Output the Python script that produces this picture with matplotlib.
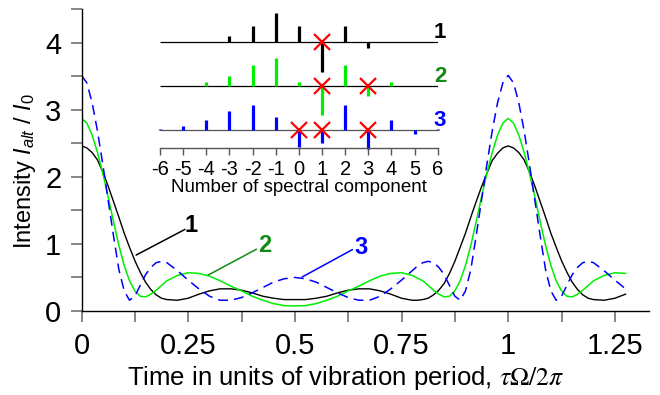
import matplotlib
matplotlib.use('Agg')
import matplotlib.pyplot as plt

plt.rcParams['font.family'] = 'Liberation Sans'
plt.rcParams['mathtext.fontset'] = 'custom'
plt.rcParams['mathtext.it'] = 'Liberation Sans:italic'
plt.rcParams['mathtext.rm'] = 'Liberation Sans'
plt.rcParams['axes.unicode_minus'] = False

# time in units of the vibration period
tau = [0, 0.0125, 0.025, 0.0375, 0.05, 0.0625, 0.075, 0.0875, 0.1, 0.1125, 0.125,
       0.1375, 0.15, 0.1625, 0.175, 0.1875, 0.2,
       0.225, 0.25, 0.275, 0.3, 0.325, 0.35, 0.375, 0.4, 0.425, 0.45, 0.475, 0.5,
       0.525, 0.55, 0.575, 0.6, 0.625, 0.65, 0.675, 0.7, 0.725, 0.75, 0.775,
       0.7875, 0.8, 0.8125, 0.825, 0.8375, 0.85, 0.8625, 0.875, 0.8875, 0.9,
       0.9125, 0.925, 0.9375, 0.95, 0.9625, 0.975, 0.9875, 1.0,
       1.0125, 1.025, 1.0375, 1.05, 1.0625, 1.075, 1.0875, 1.1, 1.1125, 1.125,
       1.1375, 1.15, 1.1625, 1.175, 1.1875, 1.2,
       1.225, 1.25, 1.275]

# intensity I_alt / I_0
curve1 = [2.46, 2.43, 2.36, 2.25, 2.07, 1.86, 1.63, 1.40, 1.16, 0.95, 0.75,
          0.58, 0.43, 0.32, 0.24, 0.19, 0.17,
          0.16, 0.19, 0.25, 0.30, 0.33, 0.33, 0.31, 0.27, 0.22, 0.19, 0.17, 0.17,
          0.17, 0.19, 0.22, 0.27, 0.31, 0.33, 0.33, 0.30, 0.25, 0.19, 0.16,
          0.16, 0.17, 0.19, 0.24, 0.31, 0.41, 0.56, 0.74, 0.95, 1.16,
          1.40, 1.63, 1.85, 2.05, 2.24, 2.35, 2.43, 2.46,
          2.43, 2.36, 2.25, 2.07, 1.86, 1.63, 1.40, 1.16, 0.95, 0.75,
          0.58, 0.43, 0.32, 0.24, 0.19, 0.17,
          0.16, 0.19, 0.25]
curve2 = [2.87, 2.80, 2.62, 2.36, 2.05, 1.70, 1.33, 0.98, 0.68, 0.45, 0.30,
          0.22, 0.21, 0.25, 0.31, 0.38, 0.45,
          0.53, 0.57, 0.56, 0.52, 0.45, 0.37, 0.30, 0.22, 0.16, 0.11, 0.08, 0.075,
          0.08, 0.11, 0.16, 0.22, 0.30, 0.37, 0.45, 0.52, 0.56, 0.57, 0.53,
          0.49, 0.45, 0.38, 0.31, 0.25, 0.21, 0.22, 0.30, 0.45, 0.68,
          0.98, 1.33, 1.70, 2.05, 2.36, 2.62, 2.80, 2.87,
          2.80, 2.62, 2.36, 2.05, 1.70, 1.33, 0.98, 0.68, 0.45, 0.30,
          0.22, 0.21, 0.25, 0.31, 0.38, 0.45,
          0.53, 0.57, 0.56]
curve3 = [3.51, 3.40, 3.10, 2.68, 2.18, 1.65, 1.12, 0.62, 0.30, 0.16, 0.22,
          0.38, 0.54, 0.65, 0.72, 0.74, 0.72,
          0.60, 0.46, 0.33, 0.22, 0.16, 0.16, 0.20, 0.27, 0.35, 0.43, 0.48, 0.50,
          0.48, 0.43, 0.35, 0.27, 0.20, 0.16, 0.16, 0.22, 0.33, 0.46, 0.60,
          0.67, 0.72, 0.74, 0.72, 0.65, 0.54, 0.38, 0.22, 0.16, 0.30,
          0.62, 1.12, 1.65, 2.18, 2.68, 3.10, 3.40, 3.51,
          3.40, 3.10, 2.68, 2.18, 1.65, 1.12, 0.62, 0.30, 0.16, 0.22,
          0.38, 0.54, 0.65, 0.72, 0.74, 0.72,
          0.60, 0.46, 0.33]

xticks = [0, 0.25, 0.5, 0.75, 1, 1.25]
xticklabels = ['0', '0.25', '0.5', '0.75', '1', '1.25']
xminor = [0.125, 0.375, 0.625, 0.875, 1.125]
yticks = [0, 1, 2, 3, 4]
yminor = [0.5, 1.5, 2.5, 3.5, 4.5]

# inset: spectral components (arbitrary units)
comp = [-6, -5, -4, -3, -2, -1, 0, 1, 2, 3, 4, 5, 6]
amp1 = [0, 0, 0, 6.3, 16.7, 29.7, 16.7, -30, 16.7, -6, 0, 0, 0]
amp2 = [0, 0, 4.3, 10, 21.3, 28, 4.3, -28.7, 21.3, -10.3, 4.3, 0, 0]
amp3 = [1, 3.7, 9.3, 18.3, 24.7, 13, -17, -13.7, 24.3, -19, 9.3, -4.3, 1]
removed1 = [1]
removed2 = [1, 3]
removed3 = [0, 1, 3]

green = '#00ee00'
dkgreen = '#138a13'
blue = '#0000ff'
tickgray = '#666666'

fig = plt.figure(figsize=(6.6, 3.95), dpi=100)
ax = fig.add_axes([0.1235, 0.2127, 0.8598, 0.7645])

ax.plot(tau, curve1, color='black', lw=1.0)
ax.plot(tau, curve2, color=green, lw=1.1)
ax.plot(tau, curve3, color=blue, lw=1.1, dashes=(6.5, 4))

ax.set_xlim(0, 1.33)
ax.set_ylim(0, 4.5)
ax.set_xticks(xticks)
ax.set_xticklabels(xticklabels)
ax.set_xticks(xminor, minor=True)
ax.set_yticks(yticks)
ax.set_yticks(yminor, minor=True)
for s in ['top', 'right']:
    ax.spines[s].set_visible(False)
for s in ['left', 'bottom']:
    ax.spines[s].set_linewidth(1.0)
ax.tick_params(which='both', direction='out', length=8, width=1.1,
               color=tickgray, labelsize=21)
ax.tick_params(axis='x', which='both', pad=7)
ax.tick_params(axis='y', which='both', pad=6.5)

ax.set_ylabel('Intensity $I_{alt}$ / $I_{\\mathit{0}}$', fontsize=17)
ax.yaxis.set_label_coords(-0.077, 0.464)
ax.set_xlabel('Time in units of vibration period, $\\tau\\Omega/2\\pi$',
              fontsize=18.5, math_fontfamily='stix')
ax.xaxis.set_label_coords(0.465, -0.175)

# curve labels with leader lines
lp = dict(arrowstyle='-', shrinkA=0, shrinkB=0, lw=1.1)
ax.annotate('', xy=(0.128, 0.833), xytext=(0.2425, 1.216),
            arrowprops=dict(lp, color='black'))
ax.text(0.256, 1.28, '1', fontsize=17, fontweight='bold', color='black',
        ha='center', va='center')
ax.annotate('', xy=(0.297, 0.536), xytext=(0.41, 0.92),
            arrowprops=dict(lp, color=dkgreen))
ax.text(0.430, 0.97, '2', fontsize=17, fontweight='bold', color=dkgreen,
        ha='center', va='center')
ax.annotate('', xy=(0.517, 0.506), xytext=(0.635, 0.915),
            arrowprops=dict(lp, color=blue))
ax.text(0.656, 0.95, '3', fontsize=17, fontweight='bold', color=blue,
        ha='center', va='center')

# inset with spectra
ins = fig.add_axes([160 / 660, 1 - 148.3 / 395, 277.7 / 660, 138.3 / 395])
ins.patch.set_visible(False)
ins.set_xlim(-6, 6)
ins.set_ylim(-0.426, 2.74)
for s in ['top', 'right', 'left']:
    ins.spines[s].set_visible(False)
ins.spines['bottom'].set_color('#555555')
ins.spines['bottom'].set_linewidth(1.0)
ins.set_xticks(comp)
ins.set_xticklabels([str(c) for c in comp])
ins.set_yticks([])
ins.tick_params(axis='x', direction='out', length=5, width=1.0,
                color='#555555', labelsize=14.5, pad=3.5)
ins.set_xlabel('Number of spectral component', fontsize=13.5, labelpad=0)

scale = 1 / 43.7
rows = [(2, amp1, removed1, 'black', 'black', '1', 'black'),
        (1, amp2, removed2, green, 'black', '2', dkgreen),
        (0, amp3, removed3, blue, '#555555', '3', blue)]
for base, amp, removed, col, basecol, lab, labcol in rows:
    ins.hlines(base, comp[0], comp[-1], color=basecol, lw=0.9, zorder=1)
    xs = [c for c, a in zip(comp, amp) if a != 0]
    tops = [base + a * scale for a in amp if a != 0]
    ins.vlines(xs, base, tops, color=col, lw=2.3, zorder=2, clip_on=False)
    ins.plot(removed, [base] * len(removed), 'x', color='red', ms=11,
             mew=1.6, zorder=3, clip_on=False)
    ins.text(6.1, base + 0.22, lab, fontsize=16, fontweight='bold',
             color=labcol, ha='center', va='center')

fig.savefig('out.png', dpi=100)
